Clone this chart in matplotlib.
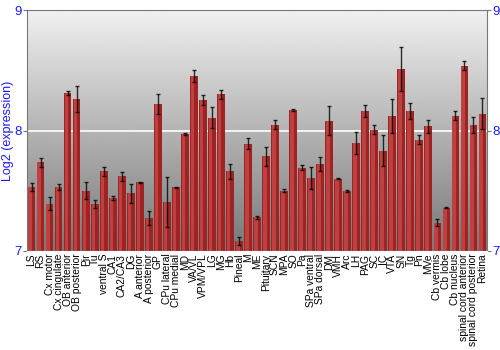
import matplotlib
matplotlib.use("Agg")
import matplotlib.pyplot as plt
import numpy as np

# tissues and log2 expression (mean, error)
tissues = ["LS", "RS", "Cx motor", "Cx cingulate", "OB anterior", "OB posterior",
           "Pir", "Tu", "ventral S", "CA1", "CA2/CA3", "DG", "A anterior",
           "A posterior", "GP", "CPu lateral", "CPu medial", "MD", "VA/VL",
           "VPM/VPL", "LG", "MG", "Hb", "Pineal", "M", "ME", "Pituitary", "SCN",
           "MPA", "SO", "Pa", "SPa ventral", "SPa dorsal", "DM", "VMH", "Arc",
           "LH", "PAG", "SC", "IC", "VTA", "SN", "Tg", "Pn", "MVe", "Cb vermis",
           "Cb lobe", "Cb nucleus", "spinal cord anterior",
           "spinal cord posterior", "Retina"]
values = [7.53, 7.735, 7.39, 7.535, 8.31, 8.26,
          7.50, 7.39, 7.66, 7.44, 7.62, 7.48, 7.57,
          7.275, 8.22, 7.405, 7.53, 7.97, 8.456,
          8.255, 8.108, 8.30, 7.66, 7.085, 7.89, 7.28, 7.785, 8.05,
          7.50, 8.17, 7.69, 7.605, 7.72, 8.08, 7.60, 7.50,
          7.895, 8.166, 8.006, 7.834, 8.12, 8.51, 8.163, 7.925, 8.036, 7.234,
          7.36, 8.125, 8.54,
          8.047, 8.14]
errors = [0.033, 0.04, 0.054, 0.025, 0.018, 0.11,
          0.072, 0.037, 0.037, 0.015, 0.037, 0.08, 0.003,
          0.06, 0.08, 0.21, 0.005, 0.01, 0.05,
          0.04, 0.087, 0.04, 0.064, 0.035, 0.045, 0.014, 0.08, 0.04,
          0.014, 0.005, 0.02, 0.09, 0.06, 0.12, 0.005, 0.01,
          0.09, 0.05, 0.036, 0.13, 0.144, 0.185, 0.065, 0.035, 0.054, 0.03,
          0.005, 0.035, 0.04,
          0.068, 0.127]
yticks = [7, 8, 9]

blue = "#1a1aff"
x = np.arange(len(tissues))

fig = plt.figure(figsize=(5, 3.5), dpi=100)
ax = fig.add_axes([0.054, 0.283, 0.92, 0.688])

# grey gradient background, light at top
grad = np.linspace(0.94, 0.47, 256).reshape(-1, 1)
ax.imshow(grad, cmap="gray", vmin=0, vmax=1, aspect="auto",
          extent=[-0.5, len(tissues) - 0.5, 7, 9], zorder=0)
ax.axhline(8, color="white", lw=1.2, zorder=1)

# bars: dark body with lighter left strip
ax.bar(x, np.array(values) - 7, bottom=7, width=0.86, color="#9e2424",
       edgecolor="none", zorder=2)
ax.bar(x - 0.14, np.array(values) - 7, bottom=7, width=0.4, color="#c84848",
       edgecolor="none", zorder=2, alpha=0.8)
ax.errorbar(x, values, yerr=errors, fmt="none", ecolor="black", elinewidth=1,
            capsize=1.6, capthick=1, alpha=0.8, zorder=3)

ax.set_xlim(-0.5, len(tissues) - 0.5)
ax.set_ylim(7, 9)
ax.set_yticks(yticks)
ax.set_yticklabels([str(t) for t in yticks], fontsize=9.5,
                   family="Liberation Sans")
ax.tick_params(axis="y", colors="#777777", labelcolor=blue, length=3, pad=1,
               right=True, labelright=True)
ax.set_xticks(x)
ax.set_xticklabels(tissues, rotation=90, fontsize=7.4, family="Liberation Sans")
ax.tick_params(axis="x", length=0, pad=2)
ax.set_ylabel("Log2 (expression)", color=blue, fontsize=9,
              family="Liberation Sans", labelpad=0)
for s in ["left", "right", "top"]:
    ax.spines[s].set_color("#777777")
ax.spines["bottom"].set_color("white")

fig.savefig("out.png", dpi=100)
